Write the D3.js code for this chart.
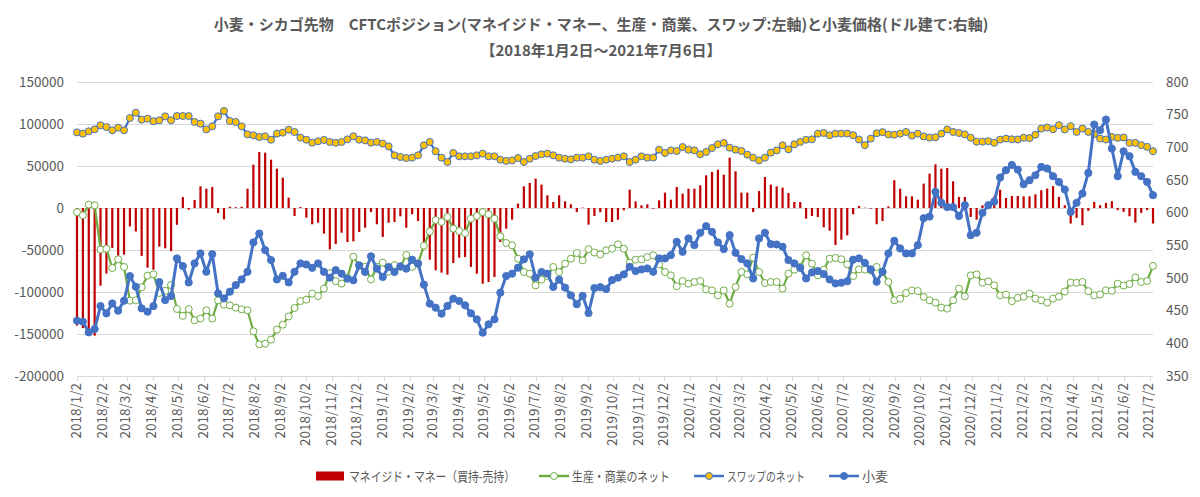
<!DOCTYPE html>
<html lang="ja">
<head>
<meta charset="UTF-8">
<title>小麦・シカゴ先物 CFTCポジション</title>
<script src="https://d3js.org/d3.v7.min.js"></script>
<style>
  body { margin: 0; background: #fff; }
  svg { display: block; font-family: "Noto Sans CJK JP", "Noto Sans", sans-serif; }
  .grid line { stroke: #d9d9d9; stroke-width: 1; }
  .tick-label { fill: #595959; font-size: 13.5px; }
</style>
</head>
<body>
<div id="chart"></div>
<script>
// weekly CFTC report dates (Tuesdays) 2018/1/2 - 2021/7/6
const weeks = d3.timeDay.range(new Date(2018, 0, 2), new Date(2021, 6, 7), 7);

// マネイジド・マネー（買持-売持）
const managedMoney = [
  -140000,-143000,-147000,-152000,-92500,-78000,-47500,-57000,-55500,-22000,
  -28000,-57000,-71000,-73500,-46000,-48000,-51500,-20000,13000,-2000,
  9500,25800,23000,25000,-6000,-13500,1500,1000,1500,23000,
  51600,66700,65900,57500,46800,36100,12300,-9500,1200,-11500,
  -19400,-17500,-30500,-49200,-43000,-29400,-40500,-39700,-28600,-23400,
  -4800,-19400,-34500,-17500,-16700,-9900,-23400,-7500,-15500,-45000,
  -61500,-74200,-77000,-79400,-65500,-59100,-58300,-70200,-78200,-90100,
  -88100,-82100,-40500,-24600,-13900,5200,25800,29800,34900,27800,
  15100,7100,15100,7900,4400,-4800,500,-19800,-9500,-5000,
  -16700,-16700,-13900,-2800,21800,7900,3200,4400,-800,9100,
  18300,9900,25000,17100,23000,23000,27000,38900,42900,45600,
  39700,59900,43600,18300,18300,-4800,20200,36900,27800,25800,
  24200,17900,7100,7100,-12700,-9500,-10700,-23000,-27000,-44000,
  -37700,-32500,-7500,2400,400,-800,-19400,-15500,2000,33000,
  23000,13900,13900,9900,29000,40900,52000,46800,47600,31700,
  13100,13100,-10700,-13900,3200,6000,13900,21800,11900,14300,
  14300,13900,13900,16300,21200,23200,26000,13300,3300,-18500,
  -11700,-20500,-3400,7300,3300,6100,8100,-2600,-4600,-9800,
  -17300,-5800,-2600,-18500
];

// 生産・商業のネット
const producerNet = [
  -5000,-8700,4000,3200,-49400,-48400,-71400,-61100,-70200,-110300,
  -109900,-94400,-80500,-79000,-101200,-98600,-91700,-120200,-128400,-120400,
  -133700,-131700,-121800,-131700,-109900,-115100,-115900,-118600,-120600,-121800,
  -146800,-162300,-161500,-156700,-144800,-138900,-129000,-119000,-110700,-109100,
  -102000,-104800,-96000,-77500,-87000,-90000,-83000,-58000,-69000,-70000,
  -85000,-70000,-65000,-76000,-68000,-70000,-56000,-70000,-66000,-45000,
  -28000,-14500,-16500,-10700,-24600,-27400,-29800,-12700,-9500,-4800,
  -7500,-12700,-33700,-41700,-44400,-60300,-76200,-78200,-92100,-85300,
  -81300,-70200,-76200,-66300,-60300,-53600,-62300,-49000,-53000,-55300,
  -50400,-48400,-43200,-48400,-65100,-61500,-61100,-58300,-56300,-67100,
  -76200,-80200,-93200,-86900,-90100,-88100,-86900,-96800,-98000,-104000,
  -98000,-113900,-94000,-76200,-79000,-59100,-76200,-89300,-88100,-88100,
  -96000,-78200,-73400,-70200,-56300,-66300,-80200,-73400,-60300,-59500,
  -61000,-67000,-81000,-73000,-73400,-74200,-70200,-76200,-88100,-109900,
  -107900,-101200,-98000,-98800,-105900,-109900,-112700,-118600,-119800,-109900,
  -96000,-105200,-80200,-79000,-88900,-87300,-92100,-104000,-103000,-110900,
  -106900,-105500,-102000,-107900,-109900,-112700,-107900,-105500,-99400,-88700,
  -89100,-88100,-99000,-104000,-103000,-98000,-98600,-90100,-92300,-90500,
  -82500,-88100,-86900,-69000
];

// スワップのネット
const swapNet = [
  90000,88500,91300,93600,98400,96400,92500,95600,92500,107100,
  113500,105200,106300,103200,104400,109100,104400,109500,109500,109500,
  102400,100400,93600,97200,109100,115500,103600,102400,97200,87700,
  86500,84500,85300,81300,88500,89700,93200,90500,83700,81300,
  77800,79400,81000,78600,77600,78600,81700,85300,81300,80500,
  77800,78600,76600,73400,62700,60700,59500,59900,62700,74600,
  78600,67500,59900,54800,65500,61500,61500,61500,62700,64700,
  61500,61500,57500,56000,56700,59500,54800,58700,61900,63900,
  64700,62700,59900,58700,57900,59900,59900,61500,57500,56000,
  57500,58700,59900,61500,54800,57500,61500,59900,59900,69400,
  65500,68600,67900,72600,69400,68600,63900,66700,71400,75800,
  77400,71800,69400,67900,63500,59900,56700,59900,65900,68600,
  74600,69800,75800,78600,81300,81700,88500,89300,86600,88500,
  88600,88600,86700,81500,74800,82600,89000,90300,87600,87200,
  88500,90500,86200,88500,85200,83800,84200,88500,93500,90500,
  89300,87600,83600,79000,79000,79600,77600,81400,82700,81800,
  81600,83600,83200,87200,94600,95800,93800,98600,93400,97400,
  90600,94600,90600,88000,82700,81500,84600,83500,83900,77500,
  77500,74800,72800,67600
];

// 小麦 (セント/ブッシェル, 右軸)
const wheatPrice = [
  434.6,433.1,416.8,421.9,457.0,445.8,461.1,449.9,465.2,502.9,
  486.6,453.5,448.4,457.0,493.7,466.2,472.3,529.9,518.2,493.2,
  522.3,537.6,509.5,536.5,476.4,468.8,479.0,489.1,497.8,509.5,
  554.4,568.1,542.7,527.4,497.8,503.4,493.2,509.5,522.3,520.7,
  515.6,522.3,509.5,500.5,512.0,506.6,499.0,496.5,519.4,509.2,
  533.2,514.3,501.5,516.8,509.2,517.8,514.3,528.0,521.9,489.8,
  460.7,454.6,445.4,457.2,468.4,464.8,458.2,445.9,436.7,416.3,
  429.1,436.7,477.5,503.0,506.6,515.8,528.5,536.2,500.5,509.2,
  506.6,486.3,497.5,485.3,473.6,459.9,472.7,446.4,484.6,486.0,
  483.0,496.8,500.4,505.5,517.2,510.6,513.1,514.6,509.5,529.9,
  529.9,535.0,555.4,540.1,560.5,550.3,569.2,579.4,570.7,554.4,
  544.2,565.6,538.6,528.9,522.3,499.3,560.5,569.2,551.8,551.3,
  547.8,527.4,522.3,515.6,499.3,508.5,510.6,506.0,497.8,491.7,
  492.7,495.0,528.0,530.0,523.3,513.1,494.2,509.5,537.6,557.0,
  545.2,537.6,537.6,550.3,591.5,594.0,631.9,615.0,608.5,608.5,
  595.0,611.5,565.6,569.2,599.7,611.5,617.0,653.8,665.0,673.0,
  666.0,643.6,649.7,657.3,670.0,667.6,655.8,647.1,635.4,601.2,
  615.0,629.3,660.9,734.9,726.1,742.5,698.1,655.8,694.0,686.4,
  662.4,655.8,647.1,626.8
];

const leftTicks = [150000, 100000, 50000, 0, -50000, -100000, -150000, -200000];
const rightTicks = [800, 750, 700, 650, 600, 550, 500, 450, 400, 350];

const titleLines = [
  "小麦・シカゴ先物　CFTCポジション(マネイジド・マネー、生産・商業、スワップ:左軸)と小麦価格(ドル建て:右軸)",
  "【2018年1月2日～2021年7月6日】"
];
const seriesNames = ["マネイジド・マネー（買持-売持）", "生産・商業のネット", "スワップのネット", "小麦"];

// Dimensions
const width = 1200, height = 497;
const plot = { left: 77, right: 1153, top: 82, bottom: 376 };

const svg = d3.select("#chart").append("svg")
  .attr("width", width)
  .attr("height", height);

svg.append("rect").attr("width", width).attr("height", height).attr("fill", "#fff");

// Scales
const x = d3.scaleTime()
  .domain([weeks[0], weeks[weeks.length - 1]])
  .range([plot.left, plot.right]);
const yL = d3.scaleLinear().domain([-200000, 150000]).range([plot.bottom, plot.top]);
const yR = d3.scaleLinear().domain([350, 800]).range([plot.bottom, plot.top]);

// Title
svg.append("g").selectAll("text")
  .data(titleLines)
  .join("text")
  .attr("x", 601)
  .attr("y", (d, i) => i === 0 ? 30 : 56)
  .attr("text-anchor", "middle")
  .attr("fill", "#595959")
  .attr("font-weight", "bold")
  .attr("font-size", "15px")
  .text(d => d);

// Gridlines
svg.append("g").attr("class", "grid")
  .selectAll("line")
  .data(leftTicks)
  .join("line")
  .attr("x1", plot.left).attr("x2", plot.right)
  .attr("y1", d => Math.round(yL(d)) + 0.5)
  .attr("y2", d => Math.round(yL(d)) + 0.5);

// Y axis labels
svg.append("g").selectAll("text")
  .data(leftTicks)
  .join("text")
  .attr("class", "tick-label")
  .attr("x", 64)
  .attr("y", d => yL(d))
  .attr("dy", "0.35em")
  .attr("text-anchor", "end")
  .text(d => d);

svg.append("g").selectAll("text")
  .data(rightTicks)
  .join("text")
  .attr("class", "tick-label")
  .attr("x", 1166)
  .attr("y", d => yR(d))
  .attr("dy", "0.35em")
  .text(d => d);

// X axis ticks and labels (monthly, day 2)
const monthTicks = d3.timeMonth.range(new Date(2018, 0, 1), new Date(2021, 6, 2))
  .map(d => d3.timeDay.offset(d, 1));
const fmt = d3.timeFormat("%Y/%-m/%-d");

svg.append("g").selectAll("line")
  .data(monthTicks)
  .join("line")
  .attr("x1", d => Math.round(x(d)) + 0.5)
  .attr("x2", d => Math.round(x(d)) + 0.5)
  .attr("y1", plot.bottom)
  .attr("y2", plot.bottom + 5)
  .attr("stroke", "#d9d9d9");

svg.append("g").selectAll("text")
  .data(monthTicks)
  .join("text")
  .attr("class", "tick-label")
  .attr("transform", d => `translate(${x(d) - 1},${plot.bottom + 7}) rotate(-90)`)
  .attr("dy", "0.35em")
  .attr("text-anchor", "end")
  .text(d => fmt(d));

// Bars - managed money
svg.append("g").selectAll("rect")
  .data(managedMoney)
  .join("rect")
  .attr("x", (d, i) => x(weeks[i]) - 1.1)
  .attr("width", 2.2)
  .attr("y", d => Math.min(yL(d), yL(0)))
  .attr("height", d => Math.abs(yL(d) - yL(0)))
  .attr("fill", "#c00000");

// Line series
function drawLine(values, yScale, stroke, strokeWidth, mFill, mStroke, r) {
  const pts = values.map((v, i) => [x(weeks[i]), yScale(v)]);
  svg.append("path")
    .attr("d", d3.line()(pts))
    .attr("fill", "none")
    .attr("stroke", stroke)
    .attr("stroke-width", strokeWidth)
    .attr("stroke-linejoin", "round");
  svg.append("g").selectAll("circle")
    .data(pts)
    .join("circle")
    .attr("cx", d => d[0])
    .attr("cy", d => d[1])
    .attr("r", r)
    .attr("fill", mFill)
    .attr("stroke", mStroke)
    .attr("stroke-width", 1);
}

drawLine(producerNet, yL, "#70ad47", 2.25, "#ffffff", "#70ad47", 3.5);
drawLine(swapNet, yL, "#4472c4", 2.25, "#ffc000", "#4472c4", 3.5);
drawLine(wheatPrice, yR, "#4472c4", 3, "#4472c4", "#4472c4", 3.6);

// Legend
const legendY = 476;
const legendItems = [
  { name: seriesNames[0], type: "bar", color: "#c00000", len: 166 },
  { name: seriesNames[1], type: "line", color: "#70ad47", fill: "#fff", len: 98 },
  { name: seriesNames[2], type: "line", color: "#4472c4", fill: "#ffc000", len: 78 },
  { name: seriesNames[3], type: "line", color: "#4472c4", fill: "#4472c4", len: 26 }
];
const sampleW = 30, gapText = 3, gapItem = 24;
const totalW = d3.sum(legendItems, d => sampleW + gapText + d.len) + gapItem * (legendItems.length - 1);
let lx = 602 - totalW / 2;
const legend = svg.append("g");
legendItems.forEach(item => {
  if (item.type === "bar") {
    legend.append("rect")
      .attr("x", lx).attr("y", legendY - 4.5)
      .attr("width", sampleW - 2).attr("height", 9)
      .attr("fill", item.color);
  } else {
    legend.append("line")
      .attr("x1", lx).attr("x2", lx + sampleW)
      .attr("y1", legendY).attr("y2", legendY)
      .attr("stroke", item.color).attr("stroke-width", 2.5);
    legend.append("circle")
      .attr("cx", lx + sampleW / 2).attr("cy", legendY)
      .attr("r", 3.5)
      .attr("fill", item.fill).attr("stroke", item.color);
  }
  legend.append("text")
    .attr("x", lx + sampleW + gapText)
    .attr("y", legendY)
    .attr("dy", "0.35em")
    .attr("fill", "#595959")
    .attr("font-size", "13px")
    .attr("textLength", item.len)
    .attr("lengthAdjust", "spacingAndGlyphs")
    .text(item.name);
  lx += sampleW + gapText + item.len + gapItem;
});
</script>
</body>
</html>
